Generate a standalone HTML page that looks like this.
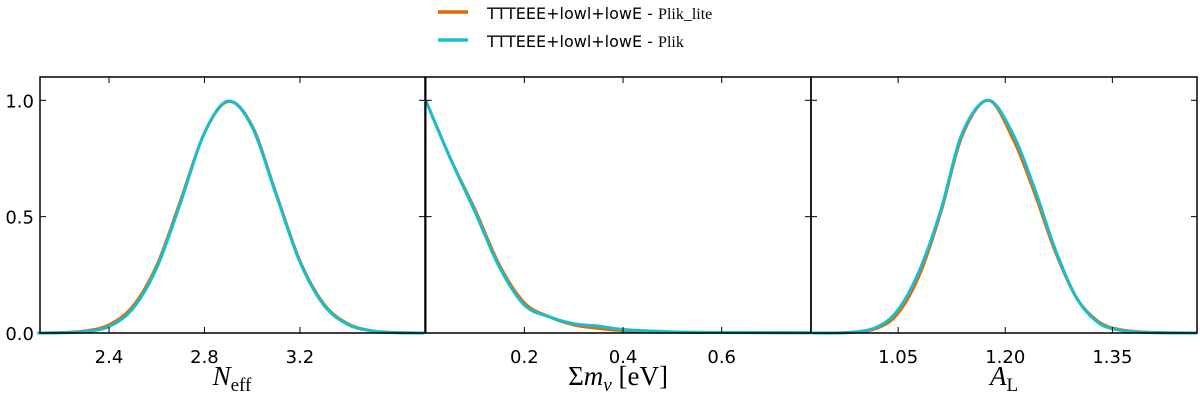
<!DOCTYPE html>
<html><head><meta charset="utf-8"><style>
body{margin:0;background:#fff;width:1200px;height:402px;overflow:hidden}
svg text{font-family:"DejaVu Sans","Liberation Sans",sans-serif}
.s{font-family:"Liberation Serif","DejaVu Serif",serif}
</style></head><body>
<svg id="c" width="1200" height="402" xmlns="http://www.w3.org/2000/svg">
<g>
<line x1="438" y1="12" x2="468" y2="12" stroke="#e06c00" stroke-width="3.5"/>
<text x="487" y="19" font-size="16">TTTEEE+lowl+lowE - <tspan class="s">Plik_lite</tspan></text>
<line x1="438" y1="40" x2="468" y2="40" stroke="#17becf" stroke-width="3.5"/>
<text x="487" y="47" font-size="16">TTTEEE+lowl+lowE - <tspan class="s">Plik</tspan></text>
</g>
</svg>
<script>
// Panel 1: N_eff
const neffX=[2.1,2.2,2.3,2.4,2.5,2.6,2.7,2.8,2.9,3.0,3.1,3.2,3.3,3.4,3.5,3.6,3.72];
const neffLite=[0,0.002,0.009,0.035,0.115,0.29,0.57,0.86,0.995,0.89,0.60,0.31,0.125,0.04,0.01,0.002,0];
const neffPlik=[0,0.001,0.006,0.028,0.105,0.28,0.56,0.86,0.997,0.885,0.595,0.305,0.12,0.037,0.009,0.0015,0];
// Panel 2: sum m_nu
const mnuX=[0,0.05,0.1,0.15,0.2,0.25,0.3,0.35,0.4,0.5,0.6,0.78];
const mnuLite=[1.0,0.75,0.53,0.29,0.13,0.07,0.035,0.02,0.01,0.004,0.002,0.001];
const mnuPlik=[1.0,0.75,0.52,0.28,0.12,0.07,0.04,0.03,0.015,0.005,0.002,0.001];
// Panel 3: A_L
const alX=[0.93,0.98,1.02,1.05,1.08,1.11,1.14,1.176,1.21,1.24,1.27,1.30,1.33,1.36,1.40,1.468];
const alLite=[0,0.002,0.02,0.085,0.25,0.52,0.85,1.0,0.84,0.61,0.35,0.15,0.05,0.015,0.003,0];
const alPlik=[0,0.002,0.025,0.1,0.27,0.53,0.86,1.0,0.86,0.63,0.36,0.15,0.045,0.012,0.002,0];
const yTicks=[0,0.5,1.0];
const yTickLabels=["0.0","0.5","1.0"];

const panels=[
 {name:"neff",x0:40,x1:425,min:2.111,max:3.724,ticks:[2.4,2.8,3.2],labels:["2.4","2.8","3.2"],X:neffX,A:neffLite,B:neffPlik},
 {name:"mnu",x0:425.7,x1:811,min:0,max:0.781,ticks:[0.2,0.4,0.6],labels:["0.2","0.4","0.6"],X:mnuX,A:mnuLite,B:mnuPlik},
 {name:"al",x0:811,x1:1197,min:0.928,max:1.4685,ticks:[1.05,1.2,1.35],labels:["1.05","1.20","1.35"],X:alX,A:alLite,B:alPlik}
];
const yTop=77,yBot=333,NS="http://www.w3.org/2000/svg",svgEl=document.getElementById('c');
const yS=v=>yBot-v*232.7;
function mk(t,a,p){const e=document.createElementNS(NS,t);for(const k in a)e.setAttribute(k,a[k]);(p||svgEl).appendChild(e);return e;}
function pathD(pts){let d="M"+pts[0][0]+","+pts[0][1];
 for(let i=0;i<pts.length-1;i++){const p0=pts[Math.max(i-1,0)],p1=pts[i],p2=pts[i+1],p3=pts[Math.min(i+2,pts.length-1)];
  d+=" C"+(p1[0]+(p2[0]-p0[0])/6)+","+(p1[1]+(p2[1]-p0[1])/6)+" "+(p2[0]-(p3[0]-p1[0])/6)+","+(p2[1]-(p3[1]-p1[1])/6)+" "+p2[0]+","+p2[1];}
 return d;}
panels.forEach((p,pi)=>{
 const xS=v=>p.x0+(v-p.min)/(p.max-p.min)*(p.x1-p.x0);
 const g=mk('g',{});
 
 
 [[p.A,"#e06c00","curve-plik-lite"],[p.B,"#17becf","curve-plik"]].forEach(([ys,c,n])=>{
  const pts=p.X.map((x,i)=>[xS(x),Math.min(yBot,yS(ys[i]))]);
  const e=mk('path',{d:pathD(pts),fill:"none",stroke:c,"stroke-width":3,"stroke-linejoin":"round"},g);
  
  
 });
 p.ticks.forEach((t,i)=>{const x=xS(t);
  mk('line',{x1:x,x2:x,y1:yBot,y2:yBot-6,stroke:"#000","stroke-width":1},g);
  mk('line',{x1:x,x2:x,y1:yTop,y2:yTop+6,stroke:"#000","stroke-width":1},g);
  const tx=mk('text',{x:x,y:yBot+30,"font-size":18,"text-anchor":"middle"},g);tx.textContent=p.labels[i];
  
  
 });
 yTicks.forEach((t,i)=>{
  mk('line',{x1:p.x0,x2:p.x0+6,y1:yS(t),y2:yS(t),stroke:"#000"},g);
  mk('line',{x1:p.x1,x2:p.x1-6,y1:yS(t),y2:yS(t),stroke:"#000"},g);
  if(pi===0){const tx=mk('text',{x:p.x0-6,y:yS(t)+7,"font-size":18,"text-anchor":"end"},g);tx.textContent=yTickLabels[i];
   
   }
 });
 mk('rect',{x:p.x0,y:yTop,width:p.x1-p.x0,height:yBot-yTop,fill:"none",stroke:"#000","stroke-width":1.5},g);
});
// axis titles
const titles=[[232,'<tspan font-style="italic">N</tspan><tspan font-size="19" dy="6">eff</tspan>'],
 [618,'Σ<tspan font-style="italic">m</tspan><tspan font-style="italic" font-size="19" dy="6">ν</tspan><tspan dy="-6"> [eV]</tspan>'],
 [1004,'<tspan font-style="italic">A</tspan><tspan font-size="19" dy="6">L</tspan>']];
titles.forEach(([x,h],i)=>{const t=mk('text',{x:x,y:385,"font-size":27,"text-anchor":"middle",class:"s"});t.innerHTML=h;
 
 });
</script>
</body></html>
